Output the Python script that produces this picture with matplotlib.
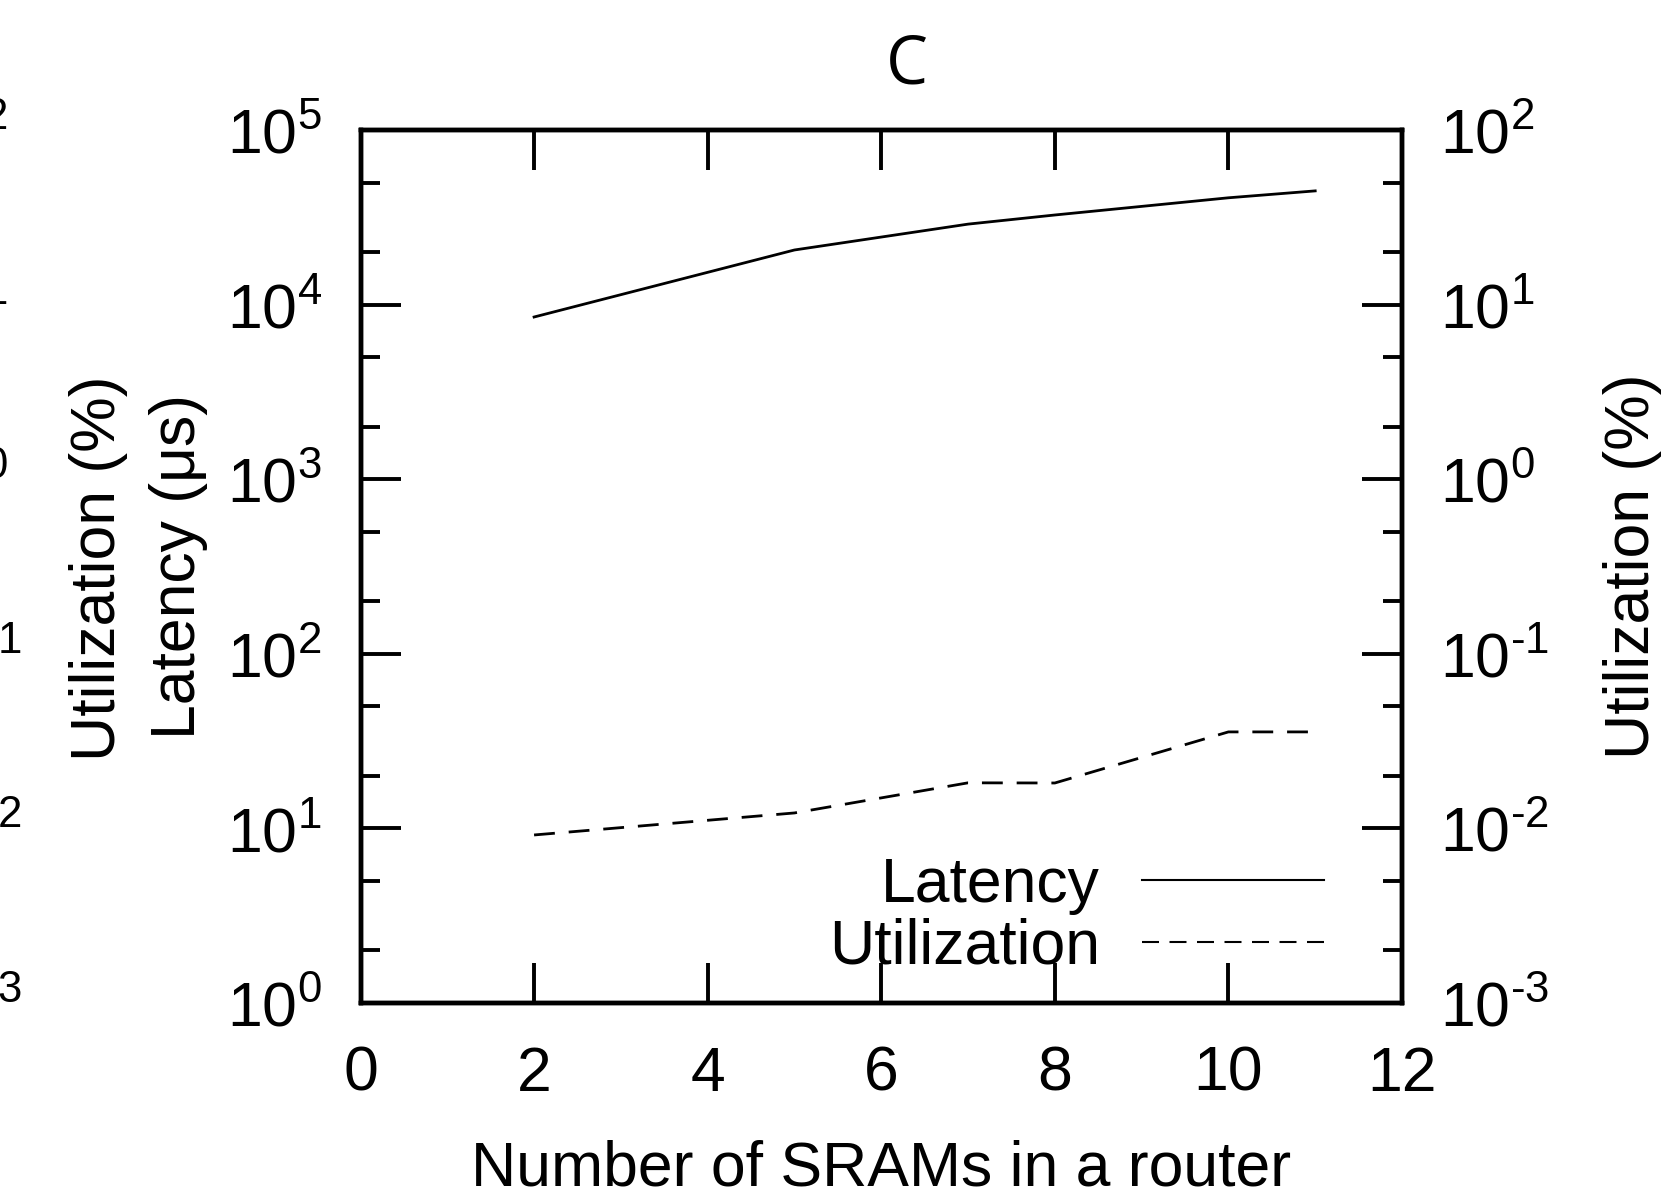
import matplotlib
matplotlib.use("Agg")
import matplotlib.pyplot as plt
import matplotlib.ticker as mticker
import matplotlib.transforms as mtransforms
import numpy as np

plt.rcParams['font.family'] = ['Liberation Sans', 'DejaVu Sans']
plt.rcParams['mathtext.fontset'] = 'custom'
plt.rcParams['mathtext.rm'] = 'Liberation Sans'
plt.rcParams['mathtext.it'] = 'Liberation Sans:italic'
plt.rcParams['mathtext.bf'] = 'Liberation Sans:bold'
plt.rcParams['axes.unicode_minus'] = False

# ---- data ----
srams = [2, 5, 7, 8, 10, 11]
latency_us = [8490, 20550, 28900, 32600, 40900, 44800]
utilization_pct = [0.00917, 0.01226, 0.01824, 0.0182, 0.0357, 0.0357]
x_ticks = [0, 2, 4, 6, 8, 10, 12]
series_labels = ["Latency", "Utilization"]
title_text = "C"
xlabel_text = "Number of SRAMs in a router"
ylabel_left = "Latency (μs)"
ylabel_right = "Utilization (%)"
neighbor_label = "Utilization (%)"
neighbor_ticks = [1e2, 1e1, 1e0, 1e-1, 1e-2, 1e-3]


def pow10_label(v, pos=None):
    e = int(round(np.log10(v)))
    if e < 0:
        return r"$\mathdefault{10^{\text{-}%d}}$" % (-e)
    return r"$\mathdefault{10^{%d}}$" % e


W, H = 1679, 1202
FS = 45

fig = plt.figure(figsize=(W / 100, H / 100), dpi=100)
ax = fig.add_axes([360.5 / W, 1 - 1003 / H, (1402 - 360.5) / W, (1003 - 130) / H])
ax2 = ax.twinx()

l1, = ax.plot(srams, latency_us, color='black', lw=2.0, solid_joinstyle='miter')
l2, = ax2.plot(srams, utilization_pct, color='black', lw=2.0, dashes=(7.5, 5))

ax.set_xlim(0, 12)
ax.set_yscale('log')
ax.set_ylim(1, 1e5)
ax2.set_yscale('log')
ax2.set_ylim(1e-3, 1e2)
ax.set_xticks(x_ticks)
ax.set_xticklabels([str(v) for v in x_ticks])

for a in (ax, ax2):
    for s in a.spines.values():
        s.set_linewidth(3.2)
    a.yaxis.set_major_locator(mticker.LogLocator(base=10, numticks=10))
    a.yaxis.set_major_formatter(mticker.FuncFormatter(pow10_label))
    a.yaxis.set_minor_locator(mticker.LogLocator(base=10, subs=[2, 5], numticks=10))
    a.yaxis.set_minor_formatter(mticker.NullFormatter())

ax.tick_params(axis='x', which='major', direction='in', length=29, width=2.8,
               top=True, bottom=True, labelsize=FS, pad=30)
ax.tick_params(axis='y', which='major', direction='in', length=29, width=2.8,
               left=True, right=False, labelsize=FS, pad=28)
ax.tick_params(axis='y', which='minor', direction='in', length=14, width=2.8,
               left=True, right=False)
ax2.tick_params(axis='y', which='major', direction='in', length=29, width=2.8,
                right=True, left=False, labelsize=FS, pad=27)
ax2.tick_params(axis='y', which='minor', direction='in', length=14, width=2.8,
                right=True, left=False)

# axis labels
ax.set_xlabel(xlabel_text, fontsize=FS)
ax.xaxis.label.set_va('baseline')
ax.xaxis.set_label_coords(0.5, (1003 - 1185) / 873)

ax.set_ylabel(ylabel_left, fontsize=FS)
ax.yaxis.label.set_va('baseline')
ax.yaxis.set_label_coords((195 - 360.5) / 1041.5, 0.5)

ax2.set_ylabel(ylabel_right, fontsize=FS)
ax2.yaxis.label.set_va('baseline')
ax2.yaxis.set_label_coords((1649 - 360.5) / 1041.5, 0.5)

# title
fig.text(907 / W, 1 - 83 / H, title_text, ha='center', va='baseline',
         fontsize=48, family=['Open Sans', 'DejaVu Sans'])

# fragments of the neighbouring panel (cut off at the left edge)
fig.text(115 / W, 1 - 568 / H, neighbor_label, rotation=90, rotation_mode='anchor',
         ha='center', va='baseline', fontsize=FS)
btrans = mtransforms.blended_transform_factory(fig.transFigure, ax2.transData)
for v in neighbor_ticks:
    fig.text(-87 / W, v, pow10_label(v), transform=btrans, ha='left',
             va='center_baseline', fontsize=FS)

# legend
leg = ax.legend([l1, l2], series_labels, loc='lower right',
                bbox_to_anchor=((1324 - 360.5) / 1041.5, (1003 - 977) / 873),
                frameon=False, markerfirst=False, fontsize=FS,
                handlelength=2.91, handletextpad=0.67, labelspacing=0.05,
                borderpad=0, borderaxespad=0)
leg_lines = leg.get_lines()
for ln in leg_lines:
    ln.set_linewidth(1.5)
leg_lines[1].set_dashes((8.16, 5.04))

fig.savefig("out.png", dpi=100)
